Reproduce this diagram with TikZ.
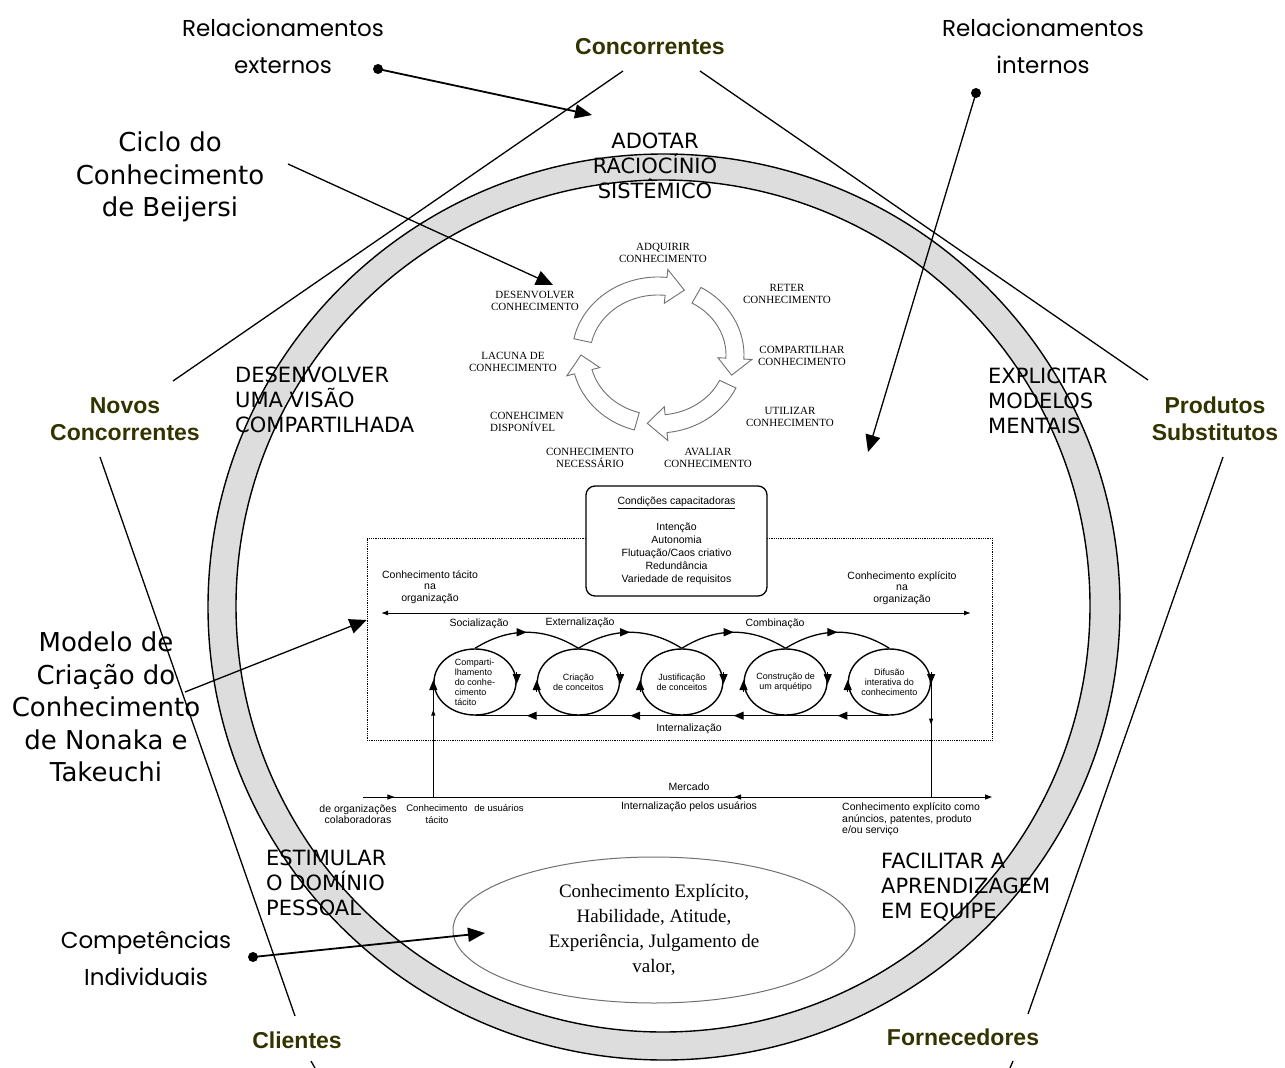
\documentclass[tikz,border=0pt]{standalone}
\usepackage{fontspec}
\setmainfont{Liberation Sans}
\newfontfamily\verd{DejaVu Sans}
\newfontfamily\tms{Liberation Serif}
\newfontfamily\hand{Poppins}
\usetikzlibrary{arrows.meta,positioning,shapes.geometric,decorations.markings}
\definecolor{ringgray}{HTML}{DDDDDD}
\definecolor{forcecol}{HTML}{333300}
\definecolor{cycgray}{HTML}{707070}
\tikzset{force/.style={font=\bfseries\fontsize{23}{27}\selectfont,text=forcecol,align=center,inner sep=0pt},hand/.style={font=\hand\fontsize{23}{37}\selectfont,align=center,inner sep=0pt},model/.style={font=\verd\fontsize{26}{32.5}\selectfont,align=center,inner sep=0pt},ringtxt/.style={font=\verd\fontsize{21}{25}\selectfont,align=left,inner sep=0pt,anchor=north west},cyctxt/.style={font=\tms\fontsize{11}{12.5}\selectfont,align=center,inner sep=0pt},cycarrow/.style={draw=cycgray,fill=white,line width=0.9pt},nktxt/.style={font=\fontsize{10.5}{11.5}\selectfont,align=center,inner sep=0pt},phase/.style={draw,ellipse,line width=1.4pt,minimum width=82pt,minimum height=66pt,inner sep=0pt,font=\fontsize{9}{10}\selectfont,align=center},nkline/.style={line width=1.3pt},midarrow/.style={postaction={decorate},decoration={markings,mark=at position #1 with {\arrow{Triangle[length=10pt,width=8pt]}}}},pointer/.style={-{Triangle[length=17pt,width=14pt]},line width=1.8pt},thinpointer/.style={-{Triangle[length=17pt,width=15pt]},line width=1.3pt},ringline/.style={line width=1.4pt},edgeline/.style={line width=1.3pt}}

\begin{document}
\begin{tikzpicture}[x=1pt,y=1pt]
\useasboundingbox (0,0) rectangle (1285,-1068);
% anel
\draw[ringline,fill=ringgray,even odd rule] (664,-607) ellipse [x radius=456,y radius=453] (663,-606) ellipse [x radius=427,y radius=426];
\node[ringtxt,align=center,anchor=center] (adotar) at (655,-166) {ADOTAR\\RACIOCÍNIO\\SISTÊMICO};
\node[ringtxt] (visao) at (235,-367) {DESENVOLVER\\UMA VISÃO\\COMPARTILHADA};
\node[ringtxt] (modelos) at (988,-368) {EXPLICITAR\\MODELOS\\MENTAIS};
\node[ringtxt] (dominio) at (266,-850) {ESTIMULAR\\O DOMÍNIO\\PESSOAL};
\node[ringtxt] (equipe) at (881,-853) {FACILITAR A\\APRENDIZAGEM\\EM EQUIPE};

% ciclo de Beijersi
\begin{scope}[shift={(658,-355)}]
\foreach \a/\b in {168/70,60/-17,-25/-98,-106/-180}{
  \pgfmathsetmacro\h{\b+14}
  \path[cycarrow] (\a:86 and 78) arc[start angle=\a,end angle=\h,x radius=86,y radius=78] -- (\h:94 and 86) -- (\b:77 and 69) -- (\h:60 and 52) -- (\h:68 and 60) arc[start angle=\h,end angle=\a,x radius=68,y radius=60] -- cycle;
}
\end{scope}
\node[cyctxt] (adquirir) at (663,-253) {ADQUIRIR\\CONHECIMENTO};
\node[cyctxt] (reter) at (787,-294) {RETER\\CONHECIMENTO};
\node[cyctxt] (compart) at (802,-356) {COMPARTILHAR\\CONHECIMENTO};
\node[cyctxt] (utilizar) at (790,-417) {UTILIZAR\\CONHECIMENTO};
\node[cyctxt] (avaliar) at (708,-458) {AVALIAR\\CONHECIMENTO};
\node[cyctxt] (necess) at (590,-458) {CONHECIMENTO\\NECESSÁRIO};
\begin{scope}
\clip (480,-400) rectangle (563,-445);
\node[cyctxt,align=left,anchor=west] (disp) at (490,-422) {CONEHCIMENTO\\DISPONÍVEL};
\end{scope}
\node[cyctxt] (lacuna) at (513,-362) {LACUNA DE\\CONHECIMENTO};
\node[cyctxt] (desenv) at (535,-301) {DESENVOLVER\\CONHECIMENTO};

% modelo de Nonaka e Takeuchi
\node[draw,densely dotted,line width=0.8pt,minimum width=625pt,minimum height=202pt] (sistema) at (679.5,-639) {};
\node[draw,line width=1.3pt,rounded corners=9pt,fill=white,minimum width=181pt,minimum height=110pt,font=\fontsize{10.5}{13}\selectfont,align=center] (cond) at (676.5,-541) {\underline{Condições capacitadoras}\\[13pt]Intenção\\Autonomia\\Flutuação/Caos criativo\\Redundância\\Variedade de requisitos};
\node[nktxt] (tacito) at (430,-587) {Conhecimento tácito\\na\\organização};
\node[nktxt] (explicito) at (902,-588) {Conhecimento explícito\\na\\organização};
\coordinate (orgL) at (381,-613);
\coordinate (orgR) at (971,-613);
\draw[{Latex[length=7pt,width=5pt]}-{Latex[length=7pt,width=5pt]},line width=1pt] (orgL) -- (orgR);
\node[nktxt] (social) at (479,-624) {Socialização};
\node[nktxt] (extern) at (580,-623) {Externalização};
\node[nktxt] (combin) at (775,-624) {Combinação};
\node[nktxt] (intern) at (689,-729) {Internalização};

\node[phase,align=left] (c1) at (475,-682) {Comparti-\\lhamento\\do conhe-\\cimento\\tácito};
\node[phase,right=20pt of c1] (c2) {Criação\\de conceitos};
\node[phase,right=20pt of c2] (c3) {Justificação\\de conceitos};
\node[phase,right=20pt of c3] (c4) {Construção de\\um arquétipo};
\node[phase,right=20pt of c4] (c5) {Difusão\\interativa do\\conhecimento};
\draw[nkline,midarrow=0.5] (c1.north) to[out=32,in=148] (c2.north);
\draw[nkline,midarrow=0.5] (c2.north) to[out=32,in=148] (c3.north);
\draw[nkline,midarrow=0.5] (c3.north) to[out=32,in=148] (c4.north);
\draw[nkline,midarrow=0.5] (c4.north) to[out=32,in=148] (c5.north);
\draw[nkline,midarrow=0.5] (c5.south) -- (c4.south);
\draw[nkline,midarrow=0.5] (c4.south) -- (c3.south);
\draw[nkline,midarrow=0.5] (c3.south) -- (c2.south);
\draw[nkline,midarrow=0.5] (c2.south) -- (c1.south);
\foreach \i in {1,...,5}{
  \draw[-{Triangle[length=10pt,width=8pt]},line width=1pt] ([yshift=-10pt]c\i.west) -- ([yshift=2pt]c\i.west);
  \draw[-{Triangle[length=10pt,width=8pt]},line width=1pt] ([yshift=10pt]c\i.east) -- ([yshift=-2pt]c\i.east);
}

% mercado
\coordinate (mkL) at (363,-797);
\coordinate (mkR) at (992,-797);
\coordinate (mkTac) at (c1.west |- mkL);
\coordinate (mkExp) at (c5.east |- mkL);
\draw[line width=1pt,-{Triangle[length=7pt,width=5pt]},postaction={decorate},decoration={markings,mark=at position 0.05 with {\arrow{Triangle[length=7pt,width=5pt]}},mark=at position 0.59 with {\arrowreversed{Triangle[length=7pt,width=5pt]}}}] (mkL) -- (mkR);
\draw[line width=1pt,postaction={decorate},decoration={markings,mark=at position 0.76 with {\arrow{Triangle[length=6pt,width=4pt]}}}] (mkTac) -- (c1.west);
\draw[line width=1pt,postaction={decorate},decoration={markings,mark=at position 0.37 with {\arrow{Triangle[length=6pt,width=4pt]}}}] (c5.east) -- (mkExp);
\node[nktxt] (mercado) at (689,-787) {Mercado};
\node[nktxt] (colab) at (358,-814) {de organizações\\colaboradoras};
\node[nktxt,font=\fontsize{9.5}{11.5}\selectfont] (tacmk) at (437,-814) {Conhecimento\\tácito};
\node[nktxt,font=\fontsize{9.5}{11.5}\selectfont] (usuarios) at (499,-808) {de usuários};
\node[nktxt] (pelos) at (689,-807) {Internalização pelos usuários};
\node[nktxt,align=left,anchor=north west] (anuncios) at (842,-803) {Conhecimento explícito como\\anúncios, patentes, produto\\e/ou serviço};

% competencias
\node[draw=cycgray,ellipse,line width=1pt,minimum width=402pt,minimum height=146pt,inner sep=0pt,font=\tms\fontsize{19}{25}\selectfont,align=center] (compet) at (654,-930) {Conhecimento Explícito,\\Habilidade, Atitude,\\Experiência, Julgamento de\\valor,};

% forcas competitivas
\node[force] (conc) at (650,-47) {Concorrentes};
\node[force] (novos) at (125,-419) {Novos\\Concorrentes};
\node[force] (prod) at (1215,-419) {Produtos\\Substitutos};
\node[force] (cli) at (297,-1040) {Clientes};
\node[force] (forn) at (963,-1037) {Fornecedores};
\coordinate (concL) at (623,-71);
\coordinate (concR) at (700,-71);
\coordinate (novosT) at (173,-381);
\coordinate (novosB) at (100,-457);
\coordinate (cliT) at (295,-1016);
\coordinate (prodT) at (1148,-380);
\coordinate (prodB) at (1223,-457);
\coordinate (fornT) at (1028,-1014);
\coordinate (cliB) at (311,-1061);
\coordinate (fornB) at (1013,-1061);
\draw[edgeline] (concL) -- (novosT);
\draw[edgeline] (concR) -- (prodT);
\draw[edgeline] (novosB) -- (cliT);
\draw[edgeline] (prodB) -- (fornT);
\draw[edgeline] (cliB) -- ++(4,-7);
\draw[edgeline] (fornB) -- ++(-3,-7);

% rotulos e setas
\node[hand] (relext) at (283,-46) {Relacionamentos\\externos};
\node[hand] (relint) at (1043,-46) {Relacionamentos\\internos};
\node[hand] (indiv) at (146,-958) {Competências\\Individuais};
\node[model] (ciclo) at (170,-177) {Ciclo do\\Conhecimento\\de Beijersi};
\node[model] (nonaka) at (106,-707) {Modelo de\\Criação do\\Conhecimento\\de Nonaka e\\Takeuchi};
\coordinate (extdot) at (378,-69);
\coordinate (extend) at (592,-115);
\coordinate (intdot) at (976,-93);
\coordinate (intend) at (868,-452);
\coordinate (cicloS) at (288,-164);
\coordinate (cicloE) at (553,-285);
\coordinate (nonakaS) at (185,-692);
\coordinate (indivdot) at (253,-957);
\coordinate (indivend) at (485,-933);
\fill (extdot) circle (5);
\fill (intdot) circle (5);
\fill (indivdot) circle (5);
\draw[pointer] (extdot) -- (extend);
\draw[thinpointer] (intdot) -- (intend);
\draw[thinpointer] (cicloS) -- (cicloE);
\draw[thinpointer] (nonakaS) -- ([yshift=19pt]sistema.west);
\draw[pointer] (indivdot) -- (indivend);
\end{tikzpicture}
\end{document}
